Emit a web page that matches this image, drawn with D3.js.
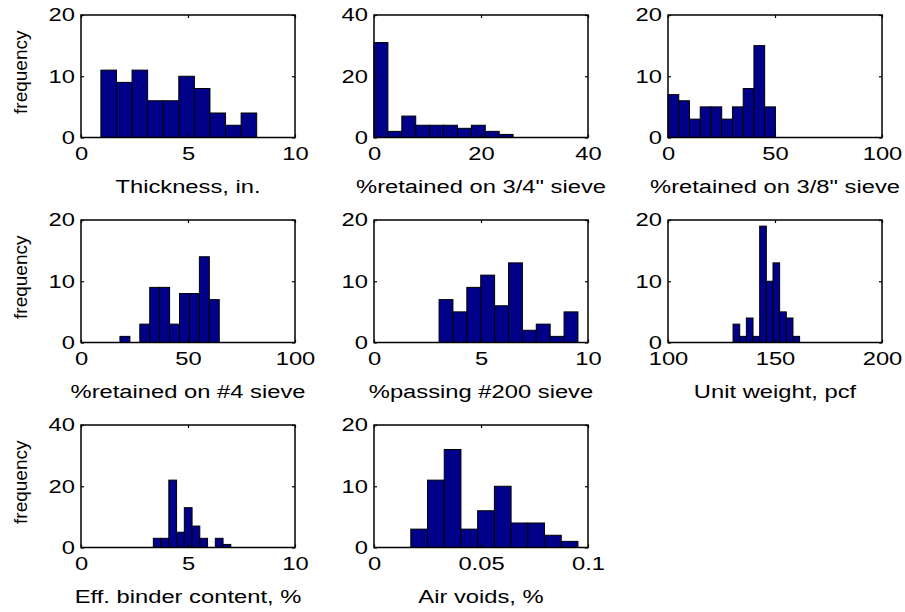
<!DOCTYPE html>
<html>
<head>
<meta charset="utf-8">
<script src="https://cdn.jsdelivr.net/npm/d3@7/dist/d3.min.js"></script>
<style>
  body { margin: 0; background: #fff; }
  svg { display: block; font-family: "Liberation Sans", Arial, sans-serif; }
</style>
</head>
<body>
<div id="chart"></div>
<script>
// Axis titles
const xTitles = [
  'Thickness, in.',
  '%retained on 3/4" sieve',
  '%retained on 3/8" sieve',
  '%retained on #4 sieve',
  '%passing #200 sieve',
  'Unit weight, pcf',
  'Eff. binder content, %',
  'Air voids, %'
];

// Histogram counts (10 bins each)
const thicknessCounts = [11, 9, 11, 6, 6, 10, 8, 4, 2, 4];
const ret34Counts     = [31, 2, 7, 4, 4, 4, 3, 4, 2, 1];
const ret38Counts     = [7, 6, 3, 5, 5, 3, 5, 8, 15, 5];
const ret4Counts      = [1, 0, 3, 9, 9, 3, 8, 8, 14, 7];
const pass200Counts   = [7, 5, 9, 11, 6, 13, 2, 3, 1, 5];
const unitWtCounts    = [3, 1, 4, 1, 19, 10, 13, 5, 4, 1];
const binderCounts    = [3, 3, 22, 5, 13, 7, 3, 0, 3, 1];
const airVoidCounts   = [3, 11, 16, 3, 6, 10, 4, 4, 2, 1];

// Data range (min, max) of each variable -> hist bin edges
const thicknessRange = [0.93, 8.21];
const ret34Range     = [0, 26];
const ret38Range     = [0, 50.2];
const ret4Range      = [18.2, 64.6];
const pass200Range   = [3.04, 9.53];
const unitWtRange    = [130.4, 161.5];
const binderRange    = [3.38, 7.0];
const airVoidRange   = [0.0172, 0.0953];

// Axis limits
const xDomains = [[0, 10], [0, 40], [0, 100], [0, 100], [0, 10], [100, 200], [0, 10], [0, 0.1]];
const yDomains = [[0, 20], [0, 40], [0, 20], [0, 20], [0, 20], [0, 20], [0, 40], [0, 20]];

// Tick labels
const xTicks = [
  [0, 5, 10], [0, 20, 40], [0, 50, 100], [0, 50, 100],
  [0, 5, 10], [100, 150, 200], [0, 5, 10], [0, 0.05, 0.1]
];
const yTicks = [[0, 10, 20], [0, 20, 40], [0, 10, 20], [0, 10, 20], [0, 10, 20], [0, 10, 20], [0, 20, 40], [0, 10, 20]];

const countsList = [thicknessCounts, ret34Counts, ret38Counts, ret4Counts, pass200Counts, unitWtCounts, binderCounts, airVoidCounts];
const rangeList = [thicknessRange, ret34Range, ret38Range, ret4Range, pass200Range, unitWtRange, binderRange, airVoidRange];

const width = 905, height = 612;
const colLeft = [81, 374, 668];
const rowTop = [15, 220, 425];
const W = 214, H = 122.5;
const fontSize = 18;
const stretch = 1.32;   // horizontal texts in the picture are wide

const svg = d3.select('#chart').append('svg')
  .attr('width', width)
  .attr('height', height);

countsList.forEach((counts, i) => {
  const row = Math.floor(i / 3), col = i % 3;
  const g = svg.append('g')
    .attr('transform', `translate(${colLeft[col]},${rowTop[row]})`);

  const x = d3.scaleLinear().domain(xDomains[i]).range([0, W]);
  const y = d3.scaleLinear().domain(yDomains[i]).range([H, 0]);

  // bins
  const [lo, hi] = rangeList[i];
  const step = (hi - lo) / counts.length;
  const bins = counts.map((c, k) => ({ x0: lo + k * step, x1: lo + (k + 1) * step, c }));

  g.selectAll('rect.bar')
    .data(bins)
    .enter()
    .append('rect')
    .attr('class', 'bar')
    .attr('x', d => x(d.x0))
    .attr('width', d => x(d.x1) - x(d.x0))
    .attr('y', d => y(d.c))
    .attr('height', d => H - y(d.c))
    .attr('fill', '#000088')
    .attr('stroke', '#000')
    .attr('stroke-width', 1);

  // axes, ticks pointing inward
  const fmt = d => String(d);
  const bottom = g.append('g')
    .attr('transform', `translate(0,${H})`)
    .call(d3.axisBottom(x).tickValues(xTicks[i]).tickFormat(fmt).tickSizeInner(-3).tickSizeOuter(0).tickPadding(10));
  const left = g.append('g')
    .call(d3.axisLeft(y).tickValues(yTicks[i]).tickFormat(fmt).tickSizeInner(-3).tickSizeOuter(0).tickPadding(6));
  g.append('g')
    .call(d3.axisTop(x).tickValues(xTicks[i]).tickFormat('').tickSizeInner(-3).tickSizeOuter(0));
  g.append('g')
    .attr('transform', `translate(${W},0)`)
    .call(d3.axisRight(y).tickValues(yTicks[i]).tickFormat('').tickSizeInner(-3).tickSizeOuter(0));

  g.selectAll('.domain').remove();
  g.selectAll('.tick line').attr('stroke', '#000').attr('stroke-width', 1.2);
  [bottom, left].forEach(a => a.selectAll('text')
    .attr('font-size', fontSize)
    .attr('font-family', '"Liberation Sans", Arial, sans-serif')
    .attr('fill', '#000')
    .each(function() {
      const t = d3.select(this);
      const tx = +t.attr('x') || 0, ty = +t.attr('y') || 0;
      t.attr('x', 0).attr('y', 0)
        .attr('transform', `translate(${tx},${ty}) scale(${stretch},1)`);
    }));

  // box
  g.append('rect')
    .attr('width', W)
    .attr('height', H)
    .attr('fill', 'none')
    .attr('stroke', '#000')
    .attr('stroke-width', 1.5);

  // x title
  g.append('text')
    .attr('transform', `translate(${W / 2},${H + 55}) scale(${stretch},1)`)
    .attr('text-anchor', 'middle')
    .attr('font-size', fontSize)
    .attr('fill', '#000')
    .text(xTitles[i]);

  // y title on first column
  if (col === 0) {
    g.append('text')
      .attr('transform', `translate(-54,${H / 2 - 4}) rotate(-90)`)
      .attr('text-anchor', 'middle')
      .attr('font-size', 19)
      .attr('fill', '#000')
      .text('frequency');
  }
});
</script>
</body>
</html>
